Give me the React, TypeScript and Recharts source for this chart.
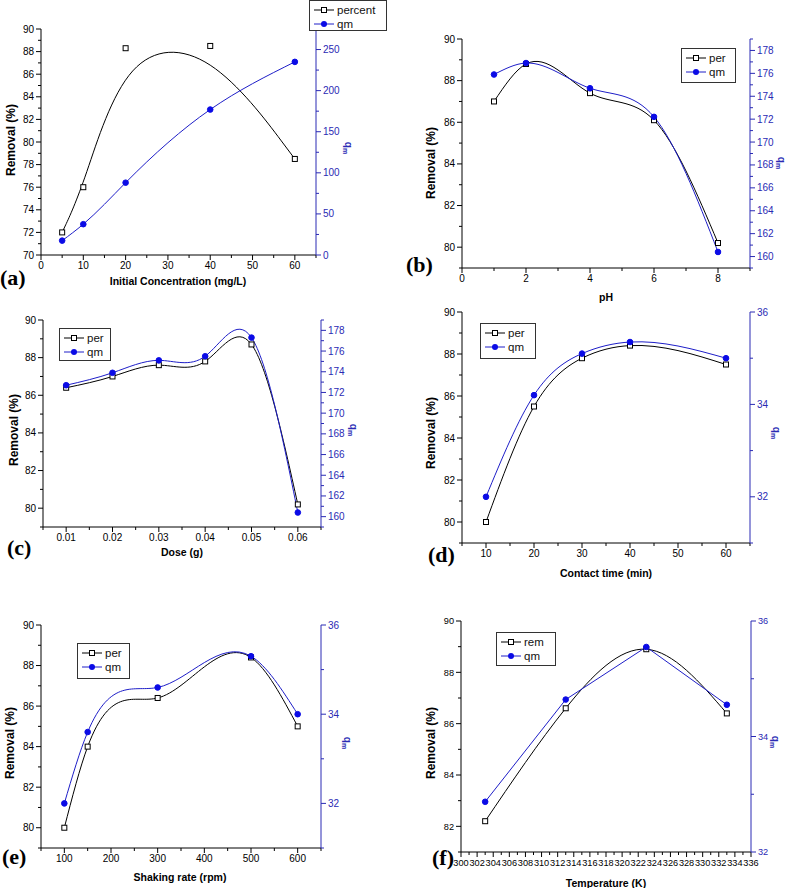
import React from 'react';
import { LineChart, Line, XAxis, YAxis } from 'recharts';

const BLACK = '#000';
const AXIS_BLUE = '#2a2ab4';
const LINE_BLUE = '#1e1ec8';
const DOT_BLUE = '#0b0be6';
const SANS = '"Liberation Sans", Arial, Helvetica, sans-serif';
const SERIF = '"Liberation Serif", "Times New Roman", serif';

// (a) initial concentration
const concX = [5, 10, 20, 40, 60];
const concPercent = [72, 76, 88.3, 88.5, 78.5];
const concQm = [17.5, 37.5, 88, 177, 235];

// (b) pH
const phX = [1, 2, 4, 6, 8];
const phPer = [87, 88.8, 87.4, 86.1, 80.2];
const phQm = [175.9, 176.9, 174.7, 172.2, 160.4];

// (c) dose
const doseX = [0.01, 0.02, 0.03, 0.04, 0.05, 0.06];
const dosePer = [86.4, 87.0, 87.6, 87.8, 88.7, 80.2];
const doseQm = [172.7, 173.9, 175.1, 175.5, 177.3, 160.4];

// (d) contact time
const timeX = [10, 20, 30, 40, 60];
const timePer = [80, 85.5, 87.8, 88.4, 87.5];
const timeQm = [32, 34.2, 35.1, 35.35, 35.0];

// (e) shaking rate
const shakeX = [100, 150, 300, 500, 600];
const shakePer = [80, 84, 86.4, 88.4, 85];
const shakeQm = [32, 33.6, 34.6, 35.3, 34.0];

// (f) temperature
const tempX = [303, 313, 323, 333];
const tempRem = [82.2, 86.6, 88.9, 86.4];
const tempQm = [32.87, 34.64, 35.55, 34.55];

// tick lists
const removalMajor = [80, 82, 84, 86, 88, 90];
const removalMinor = [79, 81, 83, 85, 87, 89];
const qmSmallMajor = [32, 34, 36];
const qmSmallMinor = [31, 33, 35];
const qmMidMajor = [160, 162, 164, 166, 168, 170, 172, 174, 176, 178];
const qmMidMinor = [159, 161, 163, 165, 167, 169, 171, 173, 175, 177, 179];

const TICK = 5;
const MINOR = 3;
const GAP = 2;
const LW = 36;
const RW = 36;
const XH = 20;

// Origin-style "Spline": natural cubic spline of y over x, drawn as exact bezier pieces
function splineX(context: any) {
  let xs: number[] = [];
  let ys: number[] = [];
  return {
    areaStart() {},
    areaEnd() {},
    lineStart() {
      xs = [];
      ys = [];
    },
    point(x: number, y: number) {
      xs.push(+x);
      ys.push(+y);
    },
    lineEnd() {
      const n = xs.length;
      if (!n) return;
      context.moveTo(xs[0], ys[0]);
      if (n < 3) {
        if (n === 2) context.lineTo(xs[1], ys[1]);
        return;
      }
      const h: number[] = [];
      for (let i = 0; i < n - 1; i++) h[i] = xs[i + 1] - xs[i];
      const M = new Array(n).fill(0);
      const a: number[] = [], b: number[] = [], c: number[] = [], d: number[] = [];
      for (let i = 1; i < n - 1; i++) {
        a[i] = h[i - 1];
        b[i] = 2 * (h[i - 1] + h[i]);
        c[i] = h[i];
        d[i] = 6 * ((ys[i + 1] - ys[i]) / h[i] - (ys[i] - ys[i - 1]) / h[i - 1]);
      }
      for (let i = 2; i < n - 1; i++) {
        const w = a[i] / b[i - 1];
        b[i] -= w * c[i - 1];
        d[i] -= w * d[i - 1];
      }
      M[n - 2] = d[n - 2] / b[n - 2];
      for (let i = n - 3; i >= 1; i--) M[i] = (d[i] - c[i] * M[i + 1]) / b[i];
      for (let i = 0; i < n - 1; i++) {
        const hi = h[i];
        const s = (ys[i + 1] - ys[i]) / hi;
        const d0 = s - (hi * (2 * M[i] + M[i + 1])) / 6;
        const d1 = s + (hi * (M[i] + 2 * M[i + 1])) / 6;
        context.bezierCurveTo(xs[i] + hi / 3, ys[i] + (hi / 3) * d0, xs[i + 1] - hi / 3, ys[i + 1] - (hi / 3) * d1, xs[i + 1], ys[i + 1]);
      }
    },
  };
}

type Curve = 'basis' | 'spline' | 'linear';
type Quad = [number, number, number, number];
type Pt = [number, number];

const curveOf = (c: Curve): any => (c === 'spline' ? splineX : c);

interface Spec {
  tag: string;
  box: Quad;
  plot: Quad;
  x: number[];
  a: number[];
  b: number[];
  names: [string, string];
  curves: [Curve, Curve];
  xDomain: [number, number];
  xMajor: number[];
  xMinor: number[];
  lDomain: [number, number];
  lMajor: number[];
  lMinor: number[];
  rDomain: [number, number];
  rMajor: number[];
  rMinor: number[];
  xTitle: string;
  topAxis: boolean;
  tickFont: number;
  legend: Quad;
  xTitleAt: Pt;
  yTitleAt: Pt;
  rTitleAt: Pt;
  tagAt: Pt;
}

const specs: Spec[] = [
  {
    tag: '(a)', box: [0, 0, 393, 290], plot: [41, 29, 316, 255],
    x: concX, a: concPercent, b: concQm, names: ['percent', 'qm'], curves: ['basis', 'spline'],
    xDomain: [0, 65], xMajor: [0, 10, 20, 30, 40, 50, 60], xMinor: [5, 15, 25, 35, 45, 55, 65],
    lDomain: [70, 90], lMajor: [70, 72, 74, 76, 78, 80, 82, 84, 86, 88, 90],
    lMinor: [71, 73, 75, 77, 79, 81, 83, 85, 87, 89],
    rDomain: [0, 275], rMajor: [0, 50, 100, 150, 200, 250], rMinor: [25, 75, 125, 175, 225, 275],
    xTitle: 'Initial Concentration (mg/L)', topAxis: false, tickFont: 10,
    legend: [309, 0, 78, 31], xTitleAt: [178, 281], yTitleAt: [11, 140], rTitleAt: [348, 148], tagAt: [0, 278],
  },
  {
    tag: '(b)', box: [393, 0, 394, 290], plot: [462, 39, 750, 268],
    x: phX, a: phPer, b: phQm, names: ['per', 'qm'], curves: ['spline', 'spline'],
    xDomain: [0, 9], xMajor: [0, 2, 4, 6, 8], xMinor: [1, 3, 5, 7, 9],
    lDomain: [79, 90], lMajor: removalMajor, lMinor: removalMinor,
    rDomain: [159, 179], rMajor: qmMidMajor, rMinor: qmMidMinor,
    xTitle: 'pH', topAxis: true, tickFont: 10,
    legend: [681, 48, 55, 35], xTitleAt: [606, 297], yTitleAt: [431, 163], rTitleAt: [781, 163], tagAt: [406, 265],
  },
  {
    tag: '(c)', box: [0, 290, 393, 300], plot: [43, 320, 321, 527],
    x: doseX, a: dosePer, b: doseQm, names: ['per', 'qm'], curves: ['spline', 'spline'],
    xDomain: [0.005, 0.065], xMajor: [0.01, 0.02, 0.03, 0.04, 0.05, 0.06],
    xMinor: [0.005, 0.015, 0.025, 0.035, 0.045, 0.055, 0.065],
    lDomain: [79, 90], lMajor: removalMajor, lMinor: removalMinor,
    rDomain: [159, 179], rMajor: qmMidMajor, rMinor: qmMidMinor,
    xTitle: 'Dose (g)', topAxis: true, tickFont: 10,
    legend: [59, 328, 52, 33], xTitleAt: [182, 552], yTitleAt: [14, 430], rTitleAt: [353, 430], tagAt: [7, 548],
  },
  {
    tag: '(d)', box: [393, 290, 394, 300], plot: [462, 312, 750, 543],
    x: timeX, a: timePer, b: timeQm, names: ['per', 'qm'], curves: ['spline', 'spline'],
    xDomain: [5, 65], xMajor: [10, 20, 30, 40, 50, 60], xMinor: [5, 15, 25, 35, 45, 55, 65],
    lDomain: [79, 90], lMajor: removalMajor, lMinor: removalMinor,
    rDomain: [31, 36], rMajor: qmSmallMajor, rMinor: qmSmallMinor,
    xTitle: 'Contact time (min)', topAxis: true, tickFont: 10,
    legend: [480, 323, 56, 36], xTitleAt: [606, 573], yTitleAt: [431, 433], rTitleAt: [776, 433], tagAt: [428, 555],
  },
  {
    tag: '(e)', box: [0, 590, 393, 298], plot: [41, 625, 321, 848],
    x: shakeX, a: shakePer, b: shakeQm, names: ['per', 'qm'], curves: ['spline', 'spline'],
    xDomain: [50, 650], xMajor: [100, 200, 300, 400, 500, 600], xMinor: [50, 150, 250, 350, 450, 550, 650],
    lDomain: [79, 90], lMajor: removalMajor, lMinor: removalMinor,
    rDomain: [31, 36], rMajor: qmSmallMajor, rMinor: qmSmallMinor,
    xTitle: 'Shaking rate (rpm)', topAxis: true, tickFont: 10,
    legend: [77, 643, 53, 36], xTitleAt: [180, 877], yTitleAt: [10, 743], rTitleAt: [347, 743], tagAt: [2, 857],
  },
  {
    tag: '(f)', box: [393, 590, 394, 298], plot: [461, 621, 751, 852],
    x: tempX, a: tempRem, b: tempQm, names: ['rem', 'qm'], curves: ['spline', 'linear'],
    xDomain: [300, 336],
    xMajor: [300, 302, 304, 306, 308, 310, 312, 314, 316, 318, 320, 322, 324, 326, 328, 330, 332, 334, 336],
    xMinor: [301, 303, 305, 307, 309, 311, 313, 315, 317, 319, 321, 323, 325, 327, 329, 331, 333, 335],
    lDomain: [81, 90], lMajor: [82, 84, 86, 88, 90], lMinor: [81, 83, 85, 87, 89],
    rDomain: [32, 36], rMajor: qmSmallMajor, rMinor: [33, 35],
    xTitle: 'Temperature (K)', topAxis: true, tickFont: 9.2,
    legend: [496, 632, 60, 34], xTitleAt: [606, 883], yTitleAt: [431, 743], rTitleAt: [775, 742], tagAt: [432, 858],
  },
];

const has = (arr: number[], v: number) => arr.some((m) => Math.abs(m - v) < 1e-9);
const merge = (a: number[], b: number[]) => [...a, ...b].sort((p, q) => p - q);

type Side = 'left' | 'right' | 'bottom' | 'top';

function renderTick(p: any, side: Side, major: number[], color: string, fs: number) {
  const { x, y, payload } = p;
  const v = payload.value as number;
  const maj = has(major, v);
  const len = maj ? TICK : MINOR;
  const label = String(v);
  if (side === 'left') {
    const ax = x + GAP + TICK;
    return (
      <g>
        <line x1={ax - len} x2={ax} y1={y} y2={y} stroke={color} />
        {maj && (
          <text x={x} y={y} dy="0.35em" textAnchor="end" fill={color} fontSize={fs} fontFamily={SANS}>
            {label}
          </text>
        )}
      </g>
    );
  }
  if (side === 'right') {
    const ax = x - GAP - TICK;
    return (
      <g>
        <line x1={ax} x2={ax + len} y1={y} y2={y} stroke={color} />
        {maj && (
          <text x={x} y={y} dy="0.35em" textAnchor="start" fill={color} fontSize={fs} fontFamily={SANS}>
            {label}
          </text>
        )}
      </g>
    );
  }
  if (side === 'top') {
    const ay = y + GAP + TICK;
    return <line x1={x} x2={x} y1={ay} y2={ay + len} stroke={color} />;
  }
  const ay = y - GAP - TICK;
  return (
    <g>
      <line x1={x} x2={x} y1={ay} y2={ay + len} stroke={color} />
      {maj && (
        <text x={x} y={y} dy="0.71em" textAnchor="middle" fill={color} fontSize={fs} fontFamily={SANS}>
          {label}
        </text>
      )}
    </g>
  );
}

function SquareDot(props: any) {
  const { cx, cy } = props;
  if (cx == null || cy == null) return null;
  return <rect x={cx - 2.5} y={cy - 2.5} width={5} height={5} fill="#fff" stroke={BLACK} strokeWidth={1} />;
}

function CircleDot(props: any) {
  const { cx, cy } = props;
  if (cx == null || cy == null) return null;
  return <circle cx={cx} cy={cy} r={2.8} fill={DOT_BLUE} stroke={DOT_BLUE} />;
}

function LegendBox({ at, names }: { at: Quad; names: [string, string] }) {
  const [l, t, w, h] = at;
  const row: React.CSSProperties = { display: 'flex', alignItems: 'center', height: 14 };
  return (
    <div
      style={{
        position: 'absolute', left: l, top: t, width: w, height: h, boxSizing: 'border-box',
        border: '1px solid #333', background: '#fff', padding: '2px 3px',
        fontFamily: SANS, fontSize: 11.5, color: '#111',
      }}
    >
      <div style={row}>
        <svg width={22} height={14}>
          <line x1={1} x2={21} y1={7} y2={7} stroke={BLACK} />
          <rect x={8.5} y={4.5} width={5} height={5} fill="#fff" stroke={BLACK} />
        </svg>
        <span style={{ marginLeft: 2 }}>{names[0]}</span>
      </div>
      <div style={row}>
        <svg width={22} height={14}>
          <line x1={1} x2={21} y1={7} y2={7} stroke={LINE_BLUE} />
          <circle cx={11} cy={7} r={3} fill={DOT_BLUE} />
        </svg>
        <span style={{ marginLeft: 2 }}>{names[1]}</span>
      </div>
    </div>
  );
}

const centered = (at: Pt, rot: number): React.CSSProperties => ({
  position: 'absolute', left: at[0], top: at[1], whiteSpace: 'nowrap',
  transform: `translate(-50%, -50%) rotate(${rot}deg)`, lineHeight: 1,
});

function Panel({ s }: { s: Spec }) {
  const [left, top, w, h] = s.box;
  const [x0, y0, x1, y1] = s.plot;
  const rows = s.x.map((v, i) => ({ x: v, a: s.a[i], b: s.b[i] }));
  const margin = {
    top: y0 - top,
    left: x0 - left - LW,
    right: left + w - x1 - RW,
    bottom: top + h - y1 - XH,
  };
  const xTicks = merge(s.xMajor, s.xMinor);
  const fs = s.tickFont;
  return (
    <>
      <div style={{ position: 'absolute', left, top, width: w, height: h }}>
        <LineChart width={w} height={h} data={rows} margin={margin}>
          {s.topAxis && (
            <XAxis
              xAxisId="top" orientation="top" type="number" dataKey="x" domain={s.xDomain}
              ticks={xTicks} interval={0} height={0} allowDataOverflow
              axisLine={{ stroke: BLACK }} tickLine={false} tickSize={TICK} tickMargin={GAP}
              tick={(p: any) => renderTick(p, 'top', s.xMajor, BLACK, fs)}
            />
          )}
          <XAxis
            xAxisId="bottom" orientation="bottom" type="number" dataKey="x" domain={s.xDomain}
            ticks={xTicks} interval={0} height={XH} allowDataOverflow
            axisLine={{ stroke: BLACK }} tickLine={false} tickSize={TICK} tickMargin={GAP}
            tick={(p: any) => renderTick(p, 'bottom', s.xMajor, BLACK, fs)}
          />
          <YAxis
            yAxisId="left" orientation="left" type="number" domain={s.lDomain}
            ticks={merge(s.lMajor, s.lMinor)} interval={0} width={LW} allowDataOverflow
            axisLine={{ stroke: BLACK }} tickLine={false} tickSize={TICK} tickMargin={GAP}
            tick={(p: any) => renderTick(p, 'left', s.lMajor, BLACK, fs)}
          />
          <YAxis
            yAxisId="right" orientation="right" type="number" domain={s.rDomain}
            ticks={merge(s.rMajor, s.rMinor)} interval={0} width={RW} allowDataOverflow
            axisLine={{ stroke: AXIS_BLUE }} tickLine={false} tickSize={TICK} tickMargin={GAP}
            tick={(p: any) => renderTick(p, 'right', s.rMajor, AXIS_BLUE, fs)}
          />
          <Line
            xAxisId="bottom" yAxisId="left" dataKey="a" type={curveOf(s.curves[0])} stroke={BLACK} strokeWidth={1}
            dot={<SquareDot />} activeDot={false} isAnimationActive={false}
          />
          <Line
            xAxisId="bottom" yAxisId="right" dataKey="b" type={curveOf(s.curves[1])} stroke={LINE_BLUE} strokeWidth={1}
            dot={<CircleDot />} activeDot={false} isAnimationActive={false}
          />
        </LineChart>
      </div>
      <div style={{ ...centered(s.xTitleAt, 0), fontFamily: SANS, fontWeight: 'bold', fontSize: 10.5 }}>{s.xTitle}</div>
      <div style={{ ...centered(s.yTitleAt, -90), fontFamily: SANS, fontWeight: 'bold', fontSize: 12 }}>Removal (%)</div>
      <div style={{ ...centered(s.rTitleAt, 90), fontFamily: SANS, fontWeight: 'bold', fontSize: 10, color: AXIS_BLUE }}>
        q<span style={{ fontSize: 7, position: 'relative', top: 2 }}>m</span>
      </div>
      <div
        style={{
          position: 'absolute', left: s.tagAt[0], top: s.tagAt[1], transform: 'translateY(-50%)',
          fontFamily: SERIF, fontWeight: 'bold', fontSize: 22, lineHeight: 1,
        }}
      >
        {s.tag}
      </div>
      <LegendBox at={s.legend} names={s.names} />
    </>
  );
}

export default function App() {
  return (
    <div style={{ position: 'relative', width: 787, height: 888, background: '#fff', overflow: 'hidden' }}>
      <style>{'body{margin:0}'}</style>
      {specs.map((s) => (
        <Panel key={s.tag} s={s} />
      ))}
    </div>
  );
}
